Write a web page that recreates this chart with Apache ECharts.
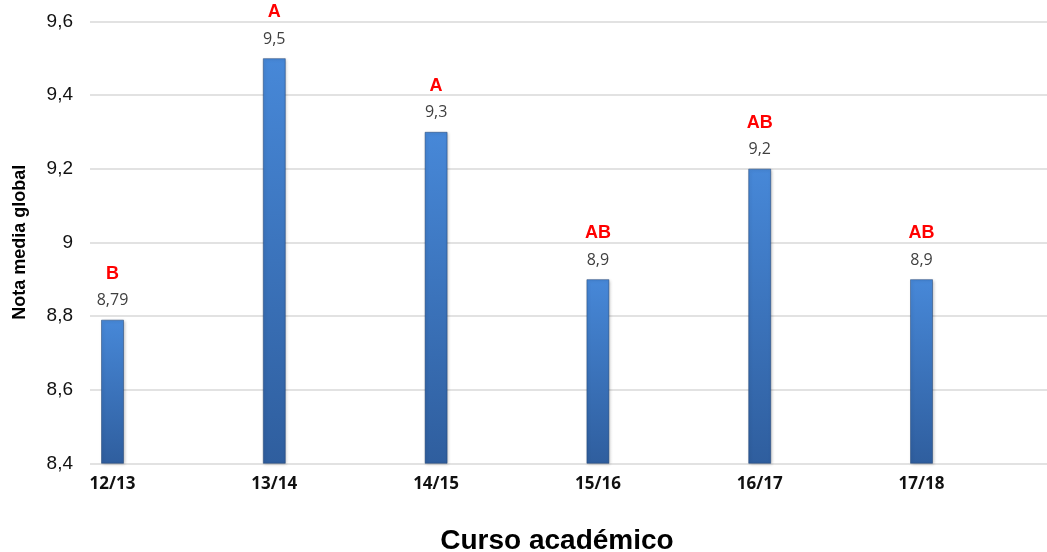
<!DOCTYPE html>
<html><head><meta charset="utf-8">
<script src="https://cdn.jsdelivr.net/npm/echarts@6/dist/echarts.min.js"></script>
<style>html,body{margin:0;padding:0;background:#fff}#c{width:1047px;height:552px}</style>
</head><body><div id="c"></div>
<script>
const categories = ['12/13','13/14','14/15','15/16','16/17','17/18'];
const values = [8.79, 9.5, 9.3, 8.9, 9.2, 8.9];
const letters = ['B','A','A','AB','AB','AB'];
const yTicks = { min: 8.4, max: 9.6, step: 0.2 };

const comma = v => String(v).replace('.', ',');
const chart = echarts.init(document.getElementById('c'));
const gTop = 21.3, gBottom = 552 - 463.3;
chart.setOption({
  animation: false,
  backgroundColor: '#fff',
  grid: [
    { left: 31.6, width: 970.8, top: gTop, bottom: gBottom, containLabel: false, outerBoundsMode: 'none' },
    { left: 90, right: 0, top: gTop, bottom: gBottom, containLabel: false, outerBoundsMode: 'none' }
  ],
  xAxis: [
    { type: 'category', data: categories, gridIndex: 0,
      axisLine: { show: false }, axisTick: { show: false },
      axisLabel: { margin: 12, color: '#111', fontFamily: 'Open Sans', fontWeight: 'bold', fontSize: 17 },
      name: 'Curso académico', nameLocation: 'middle', nameGap: 64,
      nameTextStyle: { fontFamily: 'Liberation Sans', fontWeight: 'bold', fontSize: 28, color: '#000', padding: [0,0,0,80] } },
    { type: 'value', gridIndex: 1, show: false, min: 0, max: 1 }
  ],
  yAxis: [
    { type: 'value', gridIndex: 0, min: yTicks.min, max: yTicks.max, interval: yTicks.step, show: false },
    { type: 'value', gridIndex: 1, min: yTicks.min, max: yTicks.max, interval: yTicks.step,
      axisLine: { show: false }, axisTick: { show: false },
      splitLine: { lineStyle: { color: '#d9d9d9', width: 1.5 } },
      axisLabel: { margin: 17, color: '#111', fontFamily: 'Liberation Sans', fontSize: 19,
        formatter: v => comma(Number(v.toFixed(1))) },
      name: 'Nota media global', nameLocation: 'middle', nameGap: 61, nameRotate: 90,
      nameTextStyle: { fontFamily: 'Liberation Sans', fontWeight: 'bold', fontSize: 18, color: '#000' } }
  ],
  series: [{
    type: 'bar', xAxisIndex: 0, yAxisIndex: 0,
    data: values, barWidth: 23,
    itemStyle: {
      color: { type: 'linear', x: 0, y: 0, x2: 0, y2: 1, colorStops: [
        { offset: 0, color: '#4788d8' }, { offset: 1, color: '#2f5e9e' } ] },
      borderColor: 'rgba(30,65,115,0.5)', borderWidth: 1,
      shadowColor: 'rgba(0,0,0,0.25)', shadowBlur: 3, shadowOffsetX: 1, shadowOffsetY: 1
    },
    label: {
      show: true, position: 'top', distance: 9,
      formatter: p => '{l|' + letters[p.dataIndex] + '}\n{v|' + comma(p.value) + '}',
      rich: {
        l: { fontFamily: 'Liberation Sans', fontWeight: 'bold', fontSize: 18, color: '#ff0000', lineHeight: 34, align: 'center' },
        v: { fontFamily: 'Open Sans', fontSize: 16, color: '#404040', lineHeight: 20, align: 'center' }
      }
    }
  }]
});
</script></body></html>
